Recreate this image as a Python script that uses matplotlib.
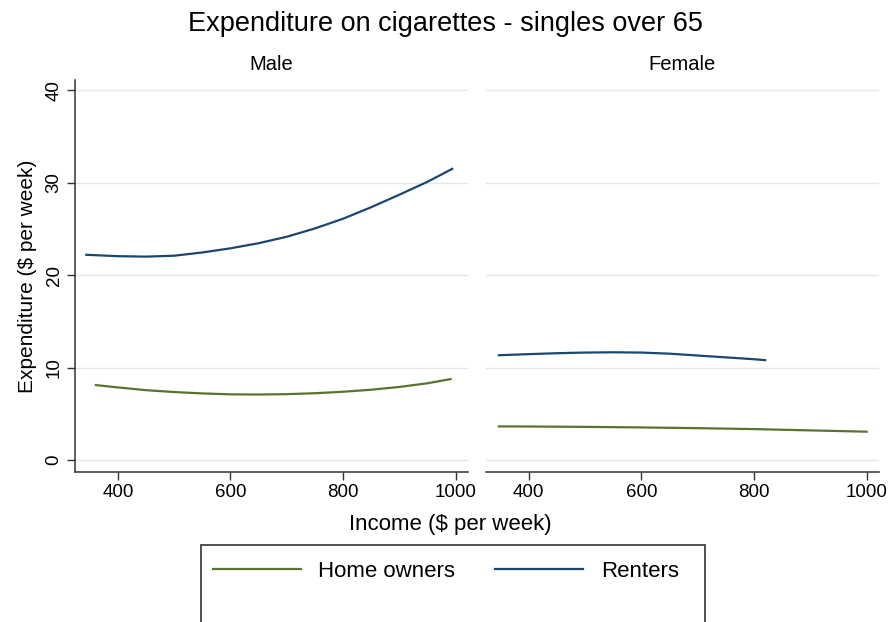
import matplotlib
matplotlib.use("Agg")
import matplotlib.pyplot as plt
from matplotlib.patches import Rectangle

plt.rcParams["font.family"] = ["Liberation Sans", "DejaVu Sans"]

# Fitted expenditure curves, $ per week, by weekly income
male_owner_income = [361, 400, 450, 500, 550, 600, 650, 700, 750, 800, 850, 900, 950, 991]
male_owner_spend = [8.1, 7.85, 7.55, 7.35, 7.2, 7.1, 7.08, 7.12, 7.22, 7.38, 7.6, 7.9, 8.3, 8.75]

male_renter_income = [344, 400, 450, 500, 550, 600, 650, 700, 750, 800, 850, 900, 950, 994]
male_renter_spend = [22.2, 22.05, 22.0, 22.1, 22.45, 22.9, 23.45, 24.15, 25.05, 26.1, 27.35, 28.7, 30.1, 31.5]

female_owner_income = [347, 400, 500, 600, 700, 800, 900, 1000]
female_owner_spend = [3.63, 3.62, 3.58, 3.52, 3.44, 3.34, 3.2, 3.06]

female_renter_income = [347, 400, 450, 500, 550, 600, 650, 700, 750, 800, 820]
female_renter_spend = [11.33, 11.45, 11.55, 11.62, 11.65, 11.62, 11.5, 11.3, 11.1, 10.9, 10.8]

panels = ["Male", "Female"]
x_ticks = [400, 600, 800, 1000]
y_ticks = [0, 10, 20, 30, 40]

GREEN = "#55752f"
NAVY = "#1a476f"
AXIS = "#333333"
GRID = "#e6e6e6"

fig = plt.figure(figsize=(8.9, 6.22), dpi=100, facecolor="white")
ax_m = fig.add_axes([0.0843, 0.2412, 0.4416, 0.630])
ax_f = fig.add_axes([0.546, 0.2412, 0.4416, 0.630], sharey=ax_m)

series = [
    (ax_m, male_owner_income, male_owner_spend, male_renter_income, male_renter_spend),
    (ax_f, female_owner_income, female_owner_spend, female_renter_income, female_renter_spend),
]
handles = []
for (ax, oi, os_, ri, rs), name in zip(series, panels):
    for y in y_ticks:
        ax.axhline(y, color=GRID, lw=1.0, zorder=0)
    h1, = ax.plot(oi, os_, color=GREEN, lw=1.6, label="Home owners")
    h2, = ax.plot(ri, rs, color=NAVY, lw=1.6, label="Renters")
    handles = [h1, h2]
    ax.set_xlim(324, 1022)
    ax.set_ylim(-1.3, 41.1)
    ax.set_xticks(x_ticks)
    ax.set_xticklabels([str(t) for t in x_ticks])
    ax.tick_params(axis="x", direction="out", length=6, width=1, color=AXIS,
                   labelsize=13.5, pad=3)
    ax.set_title(name, fontsize=14.5, pad=7)
    for s in ["top", "right"]:
        ax.spines[s].set_visible(False)
    ax.spines["bottom"].set_color(AXIS)
    ax.spines["bottom"].set_linewidth(1.1)

ax_m.set_yticks(y_ticks)
ax_m.set_yticklabels([str(t) for t in y_ticks], rotation=90, va="center")
ax_m.tick_params(axis="y", direction="out", length=6, width=1, color=AXIS,
                 labelsize=13.5, pad=3)
ax_m.spines["left"].set_color(AXIS)
ax_m.spines["left"].set_linewidth(1.1)
ax_m.set_ylabel("Expenditure ($ per week)", fontsize=15, labelpad=6)

ax_f.spines["left"].set_visible(False)
ax_f.tick_params(axis="y", left=False, labelleft=False)

fig.suptitle("Expenditure on cigarettes - singles over 65", fontsize=19.5, y=0.982)
fig.text(0.506, 0.157, "Income ($ per week)", ha="center", va="center", fontsize=16)

# legend frame runs past the lower edge of the figure
fig.add_artist(Rectangle((0.2258, -0.05), 0.566, 0.1738, transform=fig.transFigure,
                         fill=False, edgecolor=AXIS, lw=1.2))
fig.legend(handles=handles, loc="center", bbox_to_anchor=(0.501, 0.081), ncol=2,
           frameon=False, fontsize=16, handlelength=3.96, handletextpad=0.8,
           columnspacing=1.8)

fig.savefig("out.png", dpi=100, facecolor="white")
plt.close(fig)
